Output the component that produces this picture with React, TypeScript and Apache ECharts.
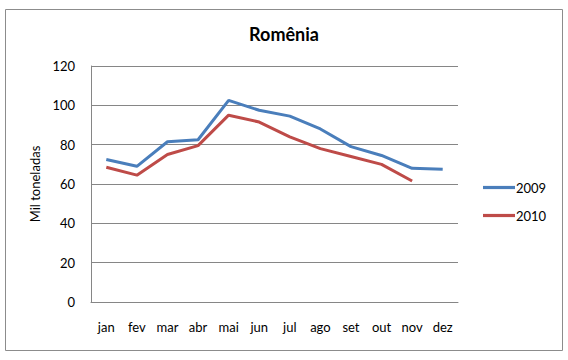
import React, { useEffect, useRef } from "react";
import * as echarts from "echarts";

const months = ["jan", "fev", "mar", "abr", "mai", "jun", "jul", "ago", "set", "out", "nov", "dez"];
const s2009 = [72.5, 69, 81.5, 82.5, 102.5, 97.5, 94.5, 88, 79, 74.5, 68, 67.5];
const s2010 = [68.5, 64.5, 75, 79.5, 95, 91.5, 84, 78, 74, 70, 61.5, null];
const yTicks = [0, 20, 40, 60, 80, 100, 120];

export default function App() {
  const ref = useRef<HTMLDivElement>(null);
  useEffect(() => {
    const chart = echarts.init(ref.current!, null, { renderer: "svg" });
    const font = "Lato, 'Open Sans', sans-serif";
    chart.setOption({
      animation: false,
      backgroundColor: "#fff",
      textStyle: { fontFamily: font },
      title: {
        text: "Romênia",
        left: "center",
        top: 20,
        textStyle: { fontSize: 18, fontWeight: "bold", color: "#000", fontFamily: font },
      },
      graphic: [
        {
          type: "rect",
          shape: { x: 5.5, y: 9.5, width: 557, height: 341 },
          style: { fill: "none", stroke: "#8c8c8c", lineWidth: 1 },
        },
      ],
      legend: {
        orient: "vertical",
        left: 478,
        top: 176,
        itemGap: 15,
        itemWidth: 32,
        itemHeight: 14,
        icon: "path://M0,6 L30,6 L30,9 L0,9 Z",
        textStyle: { fontSize: 13, color: "#000", fontFamily: font, padding: [0, 0, 0, -4] },
        data: ["2009", "2010"],
      },
      grid: { left: 91, top: 66, width: 367, height: 236 },
      xAxis: {
        type: "category",
        data: months,
        boundaryGap: true,
        axisLine: { lineStyle: { color: "#868686" } },
        axisTick: { show: false },
        axisLabel: { color: "#000", fontSize: 13, margin: 18, fontFamily: font },
      },
      yAxis: {
        type: "value",
        min: yTicks[0],
        max: yTicks[yTicks.length - 1],
        interval: 20,
        name: "Mil toneladas",
        nameLocation: "middle",
        nameGap: 50,
        nameRotate: 90,
        nameTextStyle: { fontSize: 13, color: "#000", fontFamily: font },
        axisLine: { show: true, lineStyle: { color: "#868686" } },
        axisTick: { show: false },
        splitLine: { lineStyle: { color: "#868686" } },
        axisLabel: { color: "#000", fontSize: 13, margin: 16, fontFamily: font },
      },
      series: [
        {
          name: "2009",
          type: "line",
          data: s2009,
          symbol: "none",
          lineStyle: { color: "#4a7ebb", width: 3 },
          itemStyle: { color: "#4a7ebb" },
        },
        {
          name: "2010",
          type: "line",
          data: s2010,
          symbol: "none",
          lineStyle: { color: "#be4b48", width: 3 },
          itemStyle: { color: "#be4b48" },
        },
      ],
    });
    return () => chart.dispose();
  }, []);
  return <div ref={ref} style={{ width: 568, height: 360, position: "absolute", left: 0, top: 0 }} />;
}
